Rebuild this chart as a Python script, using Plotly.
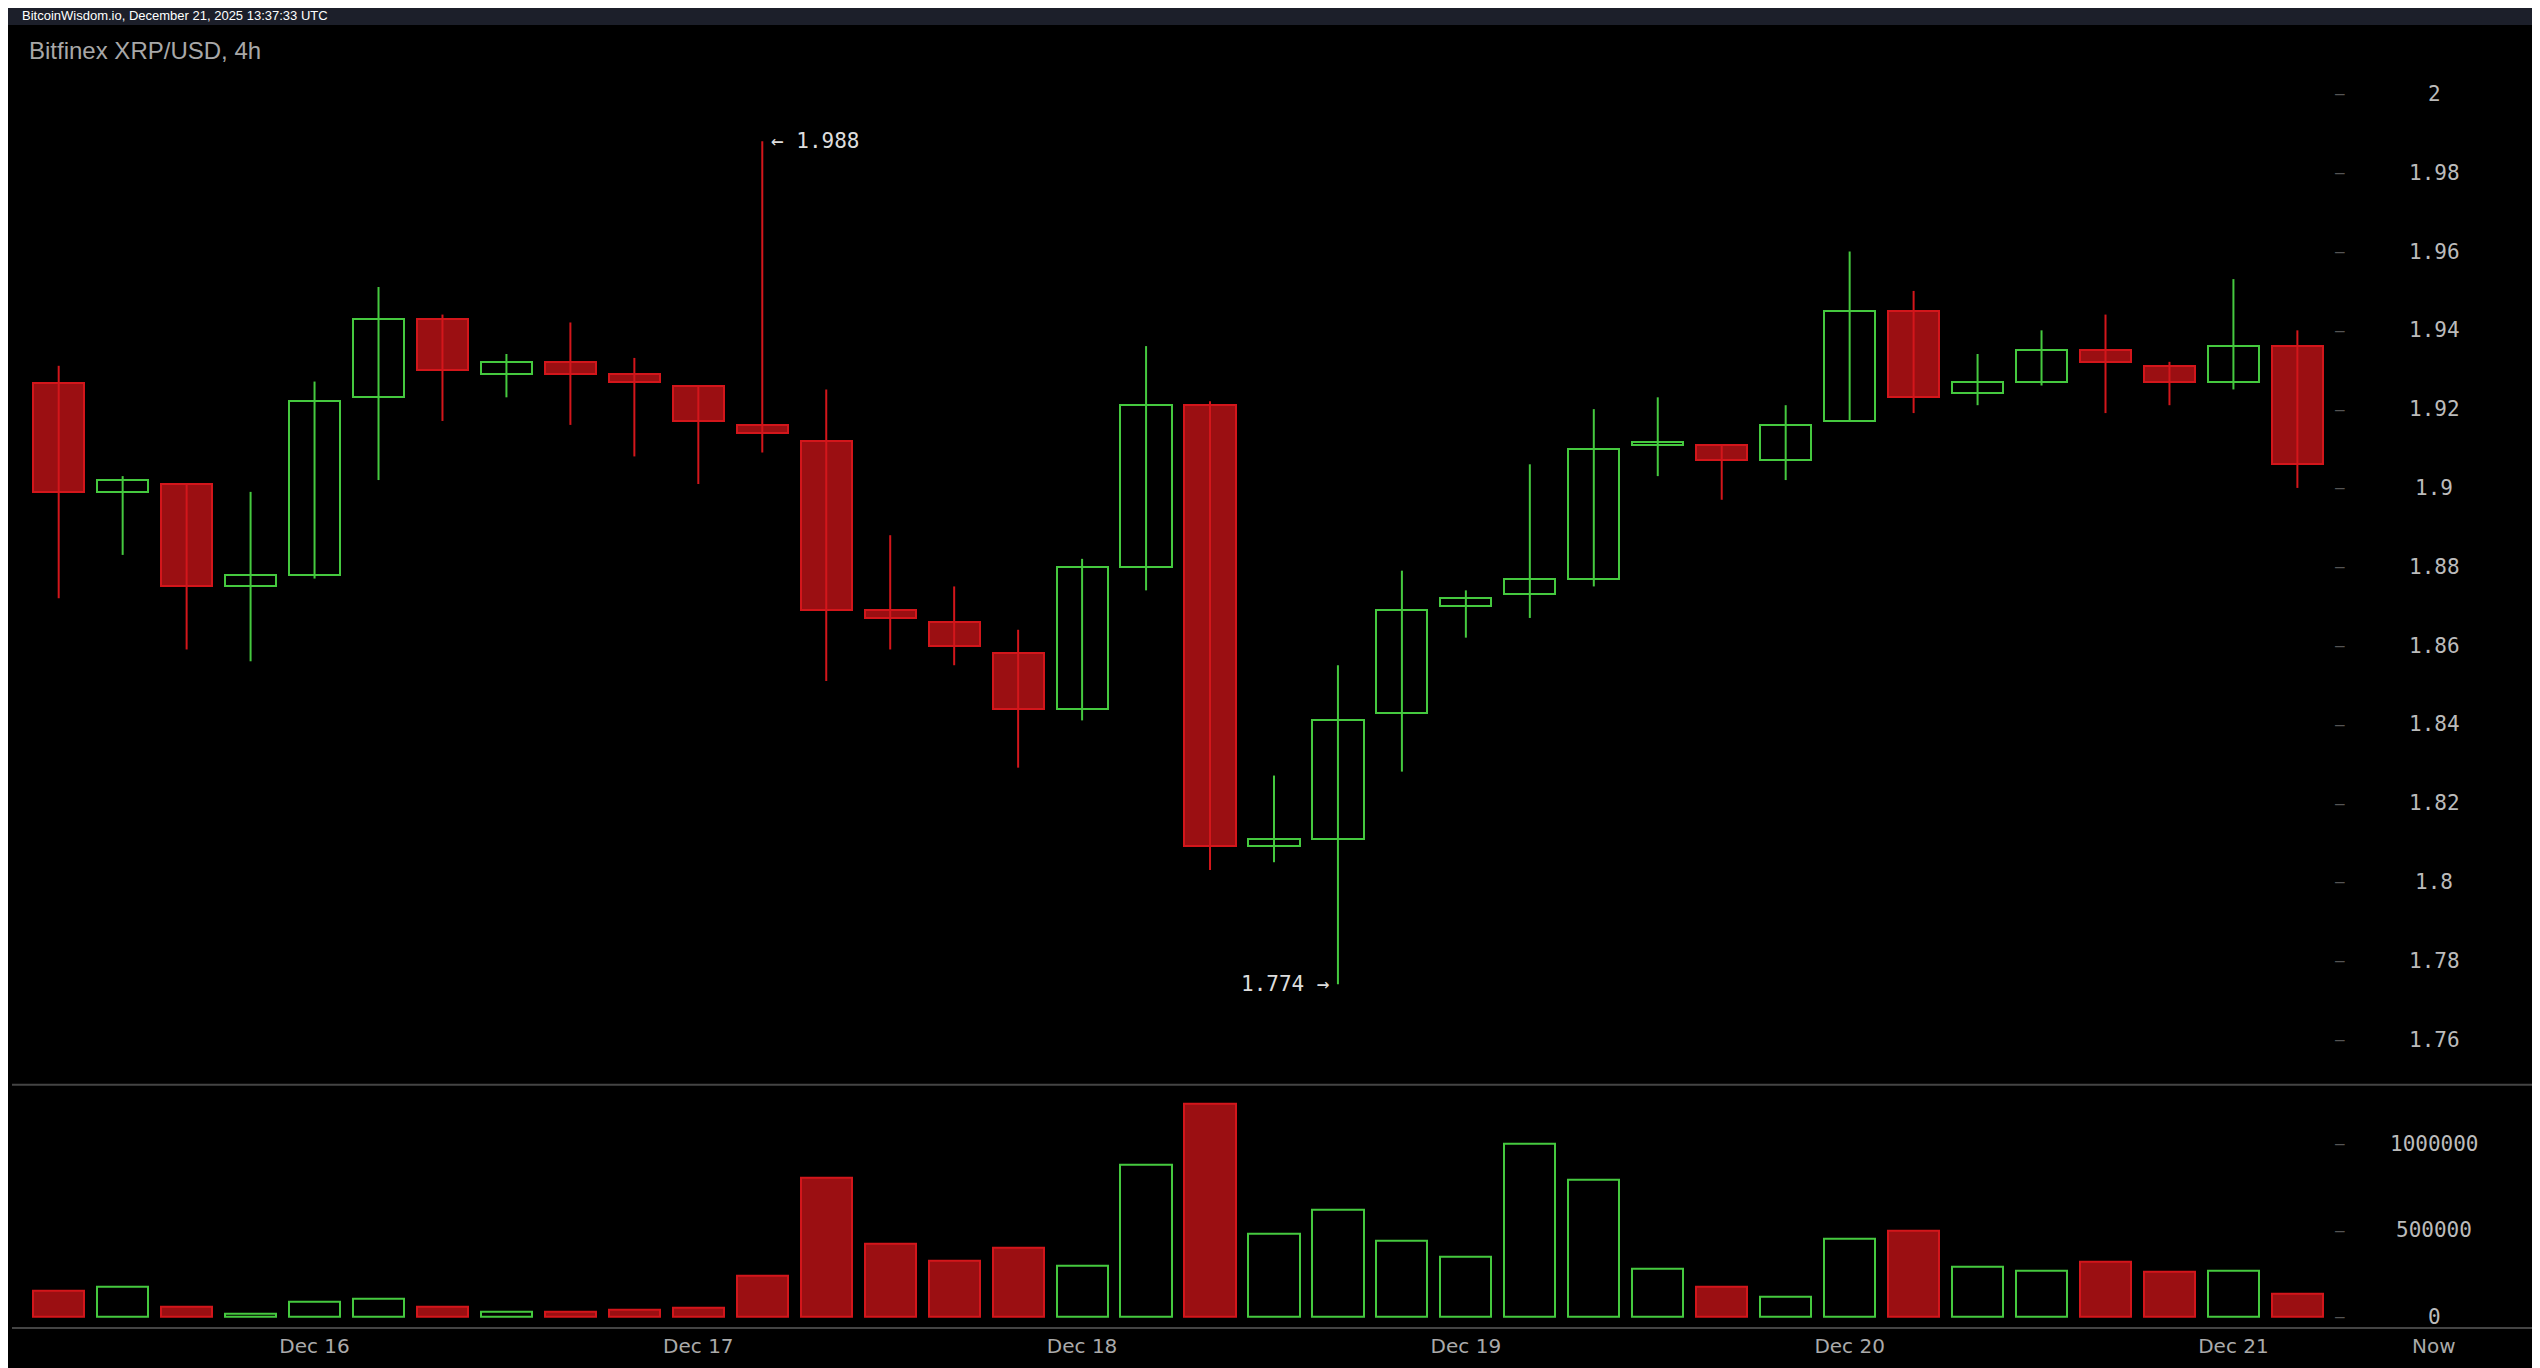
import plotly.graph_objects as go

opens  = [1.9267,1.899,1.901,1.875,1.878,1.923,1.943,1.929,1.932,1.929,1.926,1.916,1.912,1.869,1.866,1.858,1.844,1.880,1.921,1.809,1.811,1.843,1.870,1.873,1.877,1.911,1.911,1.907,1.917,1.945,1.924,1.927,1.935,1.931,1.927,1.936]
highs  = [1.931,1.903,1.901,1.899,1.927,1.951,1.944,1.934,1.942,1.933,1.926,1.988,1.925,1.888,1.875,1.864,1.882,1.936,1.922,1.827,1.855,1.879,1.874,1.906,1.920,1.923,1.911,1.921,1.960,1.950,1.934,1.940,1.944,1.932,1.953,1.940]
lows   = [1.872,1.883,1.859,1.856,1.877,1.902,1.917,1.923,1.916,1.908,1.901,1.909,1.851,1.859,1.855,1.829,1.841,1.874,1.803,1.805,1.774,1.828,1.862,1.867,1.875,1.903,1.897,1.902,1.917,1.919,1.921,1.926,1.919,1.921,1.925,1.900]
closes = [1.899,1.902,1.875,1.878,1.922,1.943,1.930,1.932,1.929,1.927,1.917,1.914,1.869,1.867,1.860,1.844,1.880,1.921,1.809,1.811,1.841,1.869,1.872,1.877,1.910,1.911,1.907,1.916,1.945,1.923,1.927,1.935,1.932,1.927,1.936,1.906]
volumes = [152e3,171e3,57e3,19e3,86e3,105e3,57e3,29e3,29e3,38e3,48e3,238e3,800e3,419e3,324e3,400e3,295e3,876e3,1229e3,476e3,619e3,438e3,343e3,1000e3,790e3,276e3,171e3,114e3,448e3,495e3,286e3,267e3,314e3,257e3,267e3,133e3]
day_ticks = [4,10,16,22,28,34]
day_labels = ["Dec 16","Dec 17","Dec 18","Dec 19","Dec 20","Dec 21"]
now_x = 37.14
price_ticks = [2,1.98,1.96,1.94,1.92,1.9,1.88,1.86,1.84,1.82,1.8,1.78,1.76]
vol_ticks = [0,500000,1000000]

GREEN = "#45c93f"; RED = "#d3161b"; REDF = "#9b0f12"
n = len(opens)
xs = list(range(n))
up = [c >= o for o, c in zip(opens, closes)]

fig = go.Figure()
for is_up, col in [(True, GREEN), (False, RED)]:
    wx, wy = [], []
    for i in xs:
        if up[i] == is_up:
            wx += [i, i, None]; wy += [lows[i], highs[i], None]
    fig.add_trace(go.Scatter(x=wx, y=wy, mode="lines", line=dict(color=col, width=2),
                             hoverinfo="skip", showlegend=False, xaxis="x", yaxis="y"))
for is_up, col, fill in [(True, GREEN, "#000000"), (False, RED, REDF)]:
    idx = [i for i in xs if up[i] == is_up]
    fig.add_trace(go.Bar(x=idx, base=[min(opens[i], closes[i]) for i in idx],
                         y=[max(abs(closes[i]-opens[i]), 0.0006) for i in idx],
                         width=0.8, marker=dict(color=fill, line=dict(color=col, width=2)),
                         showlegend=False, xaxis="x", yaxis="y"))
    fig.add_trace(go.Bar(x=idx, y=[volumes[i] for i in idx], width=0.8,
                         marker=dict(color=fill, line=dict(color=col, width=2)),
                         showlegend=False, xaxis="x", yaxis="y2"))

mono = "DejaVu Sans Mono"
ann = []
for p in price_ticks:
    ann.append(dict(x=now_x, y=p, xref="x", yref="y", text=f"{p:g}", showarrow=False,
                    font=dict(family=mono, size=21, color="#bbbbbb")))
    ann.append(dict(x=35.67, y=p, xref="x", yref="y", text="–", showarrow=False,
                    font=dict(family=mono, size=16, color="#555555")))
for v in vol_ticks:
    ann.append(dict(x=now_x, y=v, xref="x", yref="y2", text=f"{v:d}", showarrow=False,
                    font=dict(family=mono, size=21, color="#bbbbbb")))
    ann.append(dict(x=35.67, y=v, xref="x", yref="y2", text="–", showarrow=False,
                    font=dict(family=mono, size=16, color="#555555")))
ann.append(dict(x=now_x, y=0, xref="x", yref="paper", text="Now", showarrow=False,
                font=dict(family="DejaVu Sans", size=20, color="#aaaaaa"), yanchor="top", yshift=-5))
hi = highs.index(max(highs)); lo = lows.index(min(lows))
ann.append(dict(x=hi+0.1, y=highs[hi], xref="x", yref="y", text=f"← {highs[hi]:g}", showarrow=False,
                xanchor="left", font=dict(family=mono, size=21, color="#dddddd")))
ann.append(dict(x=lo-0.1, y=lows[lo], xref="x", yref="y", text=f"{lows[lo]:g} →", showarrow=False,
                xanchor="right", font=dict(family=mono, size=21, color="#dddddd")))
ann.append(dict(x=0.006, y=1.0, xref="paper", yref="paper", text="Bitfinex XRP/USD, 4h", showarrow=False,
                xanchor="left", yanchor="top", yshift=-10, font=dict(family="Liberation Sans", size=24, color="#a8a8a8")))
ann.append(dict(x=0.003, y=1.0, xref="paper", yref="paper", text="BitcoinWisdom.io, December 21, 2025 13:37:33 UTC",
                showarrow=False, xanchor="left", yanchor="bottom", yshift=0,
                font=dict(family="Liberation Sans", size=13, color="#ffffff")))

vol_top = 0.186
fig.update_layout(
    width=2540, height=1368, paper_bgcolor="#000000", plot_bgcolor="#000000",
    margin=dict(l=4, r=5, t=17, b=49), barmode="overlay", bargap=0,
    xaxis=dict(range=[-0.73, 38.84], tickvals=day_ticks, ticktext=day_labels, showgrid=False,
               zeroline=False, showline=True, linecolor="#444444", linewidth=2, ticks="outside",
               ticklen=0, tickfont=dict(family="DejaVu Sans", size=20, color="#aaaaaa"),
               anchor="y2"),
    yaxis=dict(domain=[vol_top, 1], range=[1.7485, 2.0175], showticklabels=False, showgrid=False, zeroline=False),
    yaxis2=dict(domain=[0, vol_top], range=[-60000, 1340000], showticklabels=False, showgrid=False, zeroline=False),
    annotations=ann,
    shapes=[
        dict(type="rect", xref="paper", yref="paper", x0=-0.01, x1=1.01, y0=1.0, y1=1.03,
             fillcolor="#1c1f2a", line=dict(width=0), layer="below"),
        dict(type="line", xref="paper", yref="paper", x0=0, x1=1, y0=vol_top, y1=vol_top,
             line=dict(color="#444444", width=2)),
    ],
)
fig.write_html("out.html")
